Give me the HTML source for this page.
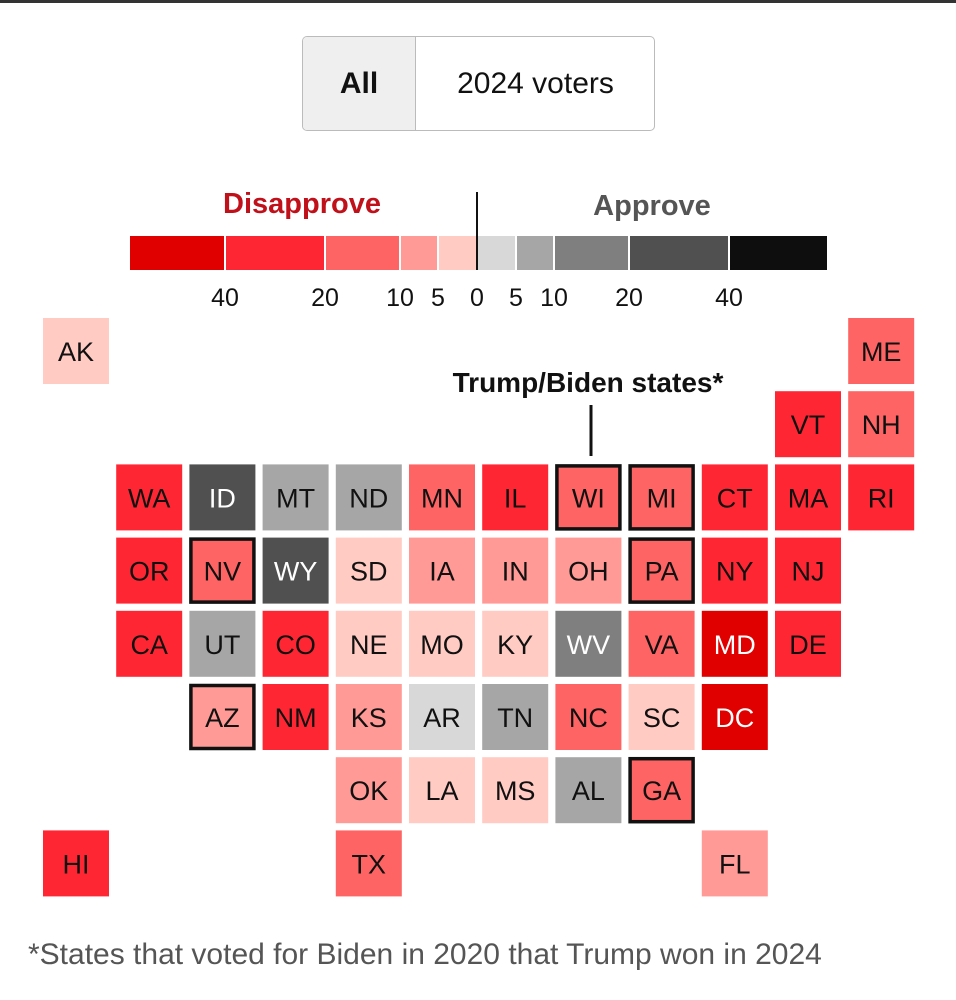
<!DOCTYPE html>
<html><head><meta charset="utf-8"><style>
body{margin:0;width:956px;height:1000px;background:#fff;font-family:"Liberation Sans Narrow","Liberation Sans",sans-serif;position:relative;overflow:hidden}
.abs{position:absolute}
</style></head><body>
<div class="abs" style="left:0;top:0;width:956px;height:3px;background:#333"></div>
<div class="abs" style="left:302px;top:36px;width:351px;height:93px;border:1.5px solid #bbb;border-radius:5px;overflow:hidden">
  <div class="abs" style="left:0;top:0;width:112px;height:93px;background:#efefef;border-right:1.5px solid #bbb;font:bold 30px 'Liberation Sans Narrow','Liberation Sans',sans-serif;line-height:93px;text-align:center;color:#111">All</div>
  <div class="abs" style="left:114px;top:0;width:237px;height:93px;font:30px 'Liberation Sans Narrow','Liberation Sans',sans-serif;line-height:93px;text-align:center;color:#111">2024 voters</div>
</div>
<svg class="abs" style="left:0;top:0" width="956" height="1000" id="chart"></svg>
<div class="abs" style="left:28px;top:938px;font-size:30px;color:#555">*States that voted for Biden in 2020 that Trump won in 2024</div>
<script>
const binEdges=[-40,-20,-10,-5,0,5,10,20,40];
const edgeX=[225,325,400,438,477,516,554,629,729];
const binColors=["#e00000","#ff2633","#ff6464","#ff9a96","#ffcbc3","#d8d8d8","#a6a6a6","#7f7f7f","#505050","#0e0e0e"];
const tickLabels=["40","20","10","5","0","5","10","20","40"];
const states=["AK","ME","VT","NH","WA","ID","MT","ND","MN","IL","WI","MI","CT","MA","RI","OR","NV","WY","SD","IA","IN","OH","PA","NY","NJ","CA","UT","CO","NE","MO","KY","WV","VA","MD","DE","AZ","NM","KS","AR","TN","NC","SC","DC","OK","LA","MS","AL","GA","HI","TX","FL"];
const cols=[0,11,10,11,1,2,3,4,5,6,7,8,9,10,11,1,2,3,4,5,6,7,8,9,10,1,2,3,4,5,6,7,8,9,10,2,3,4,5,6,7,8,9,4,5,6,7,8,0,4,9];
const rows=[0,0,1,1,2,2,2,2,2,2,2,2,2,2,2,3,3,3,3,3,3,3,3,3,3,4,4,4,4,4,4,4,4,4,4,5,5,5,5,5,5,5,5,6,6,6,6,6,7,7,7];
const netApproval=[-3,-15,-30,-15,-30,25,7,7,-15,-30,-15,-15,-30,-30,-30,-30,-15,25,-3,-7,-7,-7,-15,-30,-30,-30,7,-30,-3,-3,-3,15,-15,-45,-30,-7,-30,-7,3,7,-15,-3,-45,-7,-3,-3,7,-15,-30,-15,-7];
const flipped=["WI","MI","NV","PA","AZ","GA"];
const svg=document.getElementById('chart');
const NS="http://www.w3.org/2000/svg";
function mk(t,a){const e=document.createElementNS(NS,t);for(const k in a)e.setAttribute(k,a[k]);svg.appendChild(e);return e;}
function binOf(v){let i=0;while(i<binEdges.length&&v>binEdges[i])i++;return i;}
function colX(c){return 43+c*73.2;}
function rowY(r){return 318+r*73.2;}
// legend
const lx0=130,lx1=827;
for(let i=0;i<binColors.length;i++){
  const a=i===0?lx0:edgeX[i-1]+1,b=i===binColors.length-1?lx1:edgeX[i]-1;
  const r=mk('rect',{x:a,y:236,width:b-a,height:34,fill:binColors[i]});
  
  
}
tickLabels.forEach((t,i)=>{const e=mk('text',{x:edgeX[i],y:306,'text-anchor':'middle','font-size':25,fill:'#111'});e.textContent=t;

});
let l=mk('line',{x1:477,y1:192,x2:477,y2:270,stroke:'#111','stroke-width':2});


let t1=mk('text',{x:302,y:213,'text-anchor':'middle','font-size':29,'font-weight':'bold',fill:'#c0101a'});t1.textContent='Disapprove';


let t2=mk('text',{x:652,y:215,'text-anchor':'middle','font-size':29,'font-weight':'bold',fill:'#555'});t2.textContent='Approve';


// annotation
let an=mk('text',{x:588,y:392,'text-anchor':'middle','font-size':28,'font-weight':'bold',fill:'#111'});an.textContent='Trump/Biden states*';


let al=mk('line',{x1:591,y1:405,x2:591,y2:456,stroke:'#111','stroke-width':3});


// tiles
states.forEach((s,i)=>{
  const x=colX(cols[i]),y=rowY(rows[i]),b=binOf(netApproval[i]);
  const fl=flipped.includes(s);
  const r=mk('rect',{x:fl?x+1.5:x,y:fl?y+1.5:y,width:fl?63:66,height:fl?63:66,fill:binColors[b],stroke:fl?'#111':'none','stroke-width':fl?3.5:0});
  
  
  const white=(b===0&&netApproval[i]<-40)||b>=7;
  const tx=mk('text',{x:x+33,y:y+43,'text-anchor':'middle','font-size':27,fill:white?'#fff':'#111'});
  tx.textContent=s;
  
  
});
</script>
</body></html>
